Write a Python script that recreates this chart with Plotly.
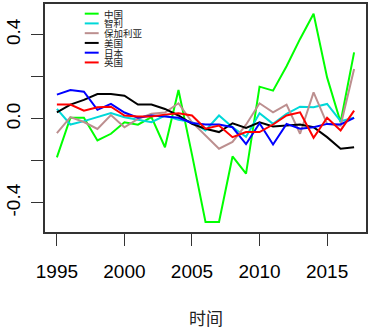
import plotly.graph_objects as go

years = list(range(1995, 2018))

china = [-0.183, 0.005, 0.005, -0.103, -0.071, -0.016, -0.028, 0.008, -0.135, 0.137,
         -0.17, -0.49, -0.49, -0.179, -0.26, 0.153, 0.134, 0.25, 0.38, 0.50, 0.197, -0.016, 0.316]
chile = [0.047, -0.027, -0.011, 0.008, 0.027, 0.008, -0.005, -0.016, 0.016, -0.005,
         -0.015, -0.055, 0.016, -0.04, -0.085, 0.027, -0.024, 0.024, 0.058, 0.055, 0.071, -0.011, 0.005]
bulgaria = [-0.068, 0.008, -0.015, -0.048, 0.018, -0.04, 0.0, 0.024, 0.03, 0.074,
            -0.016, -0.078, -0.142, -0.11, -0.028, 0.074, 0.031, 0.068, -0.071, 0.126, -0.024, -0.032, 0.237]
usa = [0.031, 0.068, 0.09, 0.118, 0.118, 0.11, 0.068, 0.068, 0.047, 0.016,
       -0.024, -0.047, -0.063, -0.021, -0.043, -0.016, -0.036, -0.032, -0.027, -0.04, -0.087, -0.142, -0.135]
japan = [0.115, 0.137, 0.129, 0.043, 0.071, 0.03, 0.005, 0.016, 0.011, 0.005,
         -0.02, -0.027, -0.027, -0.04, -0.12, -0.021, -0.122, -0.024, -0.047, -0.04, -0.024, -0.027, 0.005]
uk = [0.068, 0.068, 0.039, 0.055, 0.058, 0.016, 0.011, 0.011, 0.02, 0.027,
      0.016, -0.047, -0.032, -0.087, -0.063, -0.063, -0.027, 0.016, 0.031, -0.09, 0.005, -0.055, 0.039]

names = ["中国", "智利", "保加利亚", "美国", "日本", "英国"]
colors = ["#00FF00", "#00D8D8", "#BC8F8F", "#000000", "#0000FF", "#FF0000"]
series = [china, chile, bulgaria, usa, japan, uk]

x_ticks = [1995, 2000, 2005, 2010, 2015]
y_ticks = [-0.4, -0.2, 0.0, 0.2, 0.4]
y_ticktext = ["-0.4", "", "0.0", "", "0.4"]
x_title = "时间"

W, H = 370, 329
L, R, T, B = 45, 2, 3, 97
pw, ph = W - L - R, H - T - B

fig = go.Figure()
for name, col, vals in zip(names, colors, series):
    fig.add_trace(go.Scatter(x=years, y=vals, mode="lines", name=name,
                             line=dict(color=col, width=2), showlegend=False))

# manual compact legend (R style, no box)
shapes = []
annotations = []
for i, (name, col) in enumerate(zip(names, colors)):
    ypx = 12.7 + i * 9.8
    yp = 1 - (ypx - T) / ph
    x0 = (85 - L) / pw
    x1 = (99 - L) / pw
    shapes.append(dict(type="line", xref="paper", yref="paper", x0=x0, x1=x1, y0=yp, y1=yp,
                       line=dict(color=col, width=2)))
    annotations.append(dict(xref="paper", yref="paper", x=(102 - L) / pw, y=yp, text=name,
                            showarrow=False, xanchor="left", yanchor="middle",
                            font=dict(family="Noto Sans CJK SC", size=9.5, color="#222")))

annotations.append(dict(xref="paper", yref="paper", x=0.5, y=-(318 - (T + ph)) / ph, text=x_title,
                        showarrow=False, xanchor="center", yanchor="middle",
                        font=dict(family="Noto Sans CJK SC", size=17, color="#222")))

fig.update_layout(
    width=W, height=H,
    margin=dict(l=L, r=R, t=T, b=B, pad=0),
    paper_bgcolor="white", plot_bgcolor="white",
    shapes=shapes, annotations=annotations,
    font=dict(family="Liberation Sans, Arial", size=19, color="#000"),
)
fig.update_xaxes(range=[1994.12, 2017.88], tickvals=x_ticks, ticks="outside", ticklen=12,
                 tickwidth=1.3, tickcolor="#333", showgrid=False, zeroline=False,
                 showline=True, mirror=True, linecolor="#333", linewidth=1.5,
                 tickfont=dict(size=19), ticklabelstandoff=9)
fig.update_yaxes(range=[-0.538, 0.546], tickvals=y_ticks, ticktext=y_ticktext, ticks="outside",
                 ticklen=12, tickwidth=1.3, tickcolor="#333", showgrid=False, zeroline=False,
                 showline=True, mirror=True, linecolor="#333", linewidth=1.5,
                 tickangle=-90, tickfont=dict(size=19), ticklabelstandoff=4)

fig.write_html("out.html", config={"displayModeBar": False},
               post_script="document.body.style.margin='0';document.body.style.overflow='hidden';")
